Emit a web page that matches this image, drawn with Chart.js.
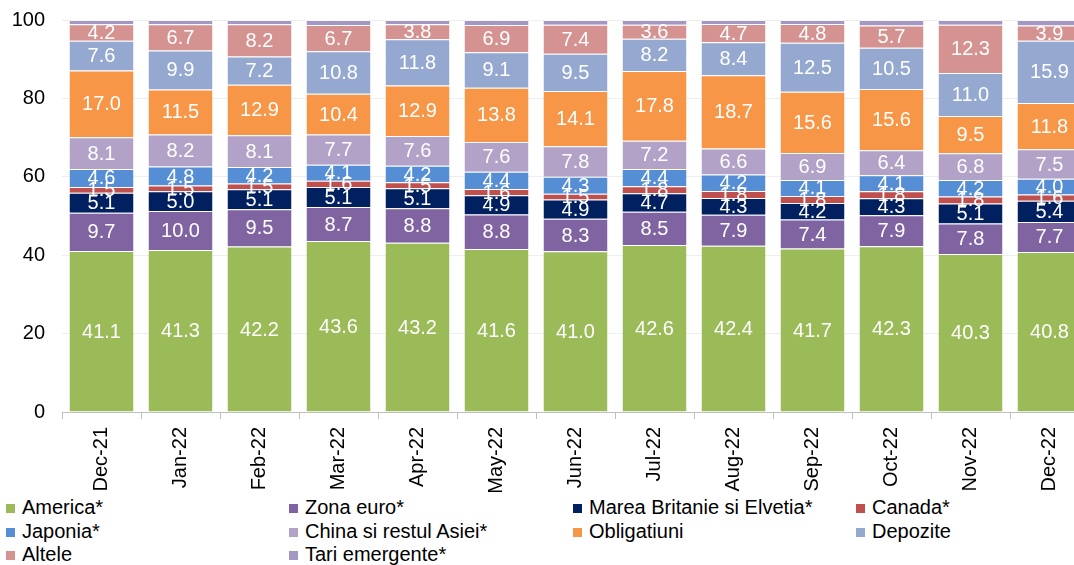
<!DOCTYPE html>
<html>
<head>
<meta charset="utf-8">
<script src="https://cdn.jsdelivr.net/npm/chart.js@4/dist/chart.umd.min.js"></script>
<style>
    html, body { margin: 0; padding: 0; background: #fff; overflow: hidden; }
    #wrap { position: absolute; left: 0; top: 0; width: 1092px; height: 495px; }
    #legend { position: absolute; left: 0; top: 496px; width: 1074px; height: 69px;
        font-family: Arial, "Liberation Sans", sans-serif; font-size: 20px; color: #000; }
    .item { position: absolute; height: 23px; line-height: 23px; white-space: nowrap; }
    .box { position: absolute; left: 0; top: 8px; width: 9px; height: 9px; }
    .txt { position: absolute; left: 16px; top: 0; }
</style>
</head>
<body>
<div id="wrap"><canvas id="stackChart" width="1092" height="495"></canvas></div>
<div id="legend"></div>
<script>
// Luni (axa X)
const months = ['Dec-21', 'Jan-22', 'Feb-22', 'Mar-22', 'Apr-22', 'May-22', 'Jun-22',
    'Jul-22', 'Aug-22', 'Sep-22', 'Oct-22', 'Nov-22', 'Dec-22'];

// Ponderi (%)
const america    = [41.1, 41.3, 42.2, 43.6, 43.2, 41.6, 41.0, 42.6, 42.4, 41.7, 42.3, 40.3, 40.8];
const zonaEuro   = [9.7, 10.0, 9.5, 8.7, 8.8, 8.8, 8.3, 8.5, 7.9, 7.4, 7.9, 7.8, 7.7];
const britanie   = [5.1, 5.0, 5.1, 5.1, 5.1, 4.9, 4.9, 4.7, 4.3, 4.2, 4.3, 5.1, 5.4];
const canada     = [1.5, 1.5, 1.5, 1.6, 1.5, 1.6, 1.5, 1.8, 1.8, 1.8, 1.8, 1.8, 1.6];
const japonia    = [4.6, 4.8, 4.2, 4.1, 4.2, 4.4, 4.3, 4.4, 4.2, 4.1, 4.1, 4.2, 4.0];
const chinaAsia  = [8.1, 8.2, 8.1, 7.7, 7.6, 7.6, 7.8, 7.2, 6.6, 6.9, 6.4, 6.8, 7.5];
const obligatiuni= [17.0, 11.5, 12.9, 10.4, 12.9, 13.8, 14.1, 17.8, 18.7, 15.6, 15.6, 9.5, 11.8];
const depozite   = [7.6, 9.9, 7.2, 10.8, 11.8, 9.1, 9.5, 8.2, 8.4, 12.5, 10.5, 11.0, 15.9];
const altele     = [4.2, 6.7, 8.2, 6.7, 3.8, 6.9, 7.4, 3.6, 4.7, 4.8, 5.7, 12.3, 3.9];
const emergente  = [1.1, 1.1, 1.1, 1.3, 1.1, 1.3, 1.2, 1.2, 1.0, 1.0, 1.4, 1.2, 1.4];

const yTicks = [0, 20, 40, 60, 80, 100];

const FONT = 'Arial, "Liberation Sans", sans-serif';

function serie(label, data, color, showLabel) {
    return {
        label: label,
        data: data,
        backgroundColor: color,
        borderColor: 'rgba(255,255,255,0.45)',
        borderWidth: { top: 1, bottom: 0, left: 0, right: 0 },
        borderSkipped: false,
        barPercentage: 0.81,
        categoryPercentage: 1.0,
        showLabel: showLabel
    };
}

const datasets = [
    serie('America*', america, '#9BBB59', true),
    serie('Zona euro*', zonaEuro, '#8064A2', true),
    serie('Marea Britanie si Elvetia*', britanie, '#002060', true),
    serie('Canada*', canada, '#C0504D', true),
    serie('Japonia*', japonia, '#558ED5', true),
    serie('China si restul Asiei*', chinaAsia, '#B3A2C7', true),
    serie('Obligatiuni', obligatiuni, '#F79646', true),
    serie('Depozite', depozite, '#95A9D0', true),
    serie('Altele', altele, '#D49391', true),
    serie('Tari emergente*', emergente, '#A497C3', false)
];

// Etichete de valori in centrul fiecarui segment
const valueLabels = {
    id: 'valueLabels',
    afterDatasetsDraw(chart) {
        const ctx = chart.ctx;
        ctx.save();
        ctx.font = '20px ' + FONT;
        ctx.fillStyle = '#ffffff';
        ctx.textAlign = 'center';
        ctx.textBaseline = 'middle';
        chart.data.datasets.forEach((ds, i) => {
            if (!ds.showLabel) return;
            chart.getDatasetMeta(i).data.forEach((bar, j) => {
                const v = ds.data[j];
                ctx.fillText(v.toFixed(1), bar.x, (bar.y + bar.base) / 2 + 1);
            });
        });
        ctx.restore();
    }
};

const ctx = document.getElementById('stackChart').getContext('2d');
const chart = new Chart(ctx, {
    type: 'bar',
    data: { labels: months, datasets: datasets },
    options: {
        responsive: false,
        animation: false,
        layout: { padding: { top: 20, right: 3, left: 0, bottom: 0 } },
        plugins: {
            legend: { display: false },
            tooltip: { enabled: false }
        },
        scales: {
            x: {
                stacked: true,
                afterFit(scale) { scale.height = 83; },
                grid: { offset: true, drawOnChartArea: false, color: '#bfbfbf', tickLength: 7 },
                border: { display: true, color: '#bfbfbf' },
                ticks: {
                    color: '#000', font: { family: FONT, size: 20 },
                    minRotation: 90, maxRotation: 90, padding: 8
                }
            },
            y: {
                stacked: true,
                min: 0,
                max: 100,
                afterFit(scale) {
                    scale.width = 62;
                    scale.paddingTop = 0;
                    scale.paddingBottom = 0;
                },
                afterBuildTicks(scale) { scale.ticks = yTicks.map(v => ({ value: v })); },
                grid: { color: '#eeeeee', drawTicks: false },
                border: { display: false },
                ticks: { color: '#000', font: { family: FONT, size: 20 }, padding: 17 }
            }
        }
    },
    plugins: [valueLabels]
});

// Legenda HTML pe 4 coloane
const legendCols = [6, 289, 573, 856];
const legendRows = [496, 520, 543];
const legend = document.getElementById('legend');
datasets.forEach((ds, i) => {
    const item = document.createElement('div');
    item.className = 'item';
    item.style.left = legendCols[i % 4] + 'px';
    item.style.top = (legendRows[Math.floor(i / 4)] - 496) + 'px';
    item.innerHTML = '<span class="box" style="background:' + ds.backgroundColor + '"></span>' +
        '<span class="txt">' + ds.label + '</span>';
    legend.appendChild(item);
});
</script>
</body>
</html>
